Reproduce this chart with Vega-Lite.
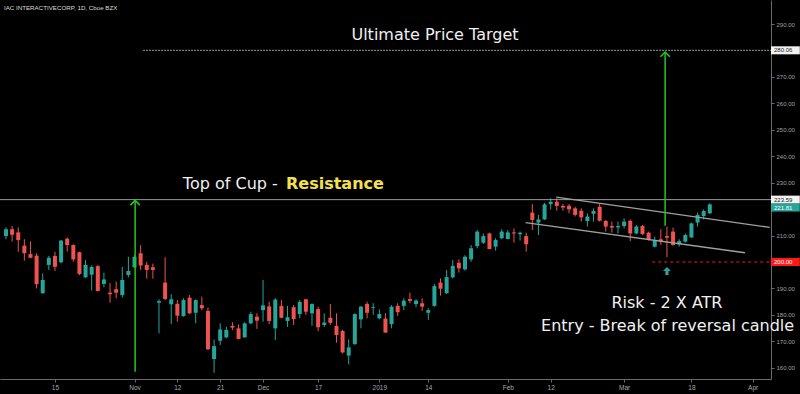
{
  "$schema": "https://vega.github.io/schema/vega-lite/v6.json",
  "width": 771,
  "height": 379,
  "autosize": {"type": "none"},
  "padding": {"left": 0, "top": 0, "right": 29, "bottom": 15},
  "background": "#000000",
  "config": {
    "view": {"stroke": null},
    "font": "DejaVu Sans",
    "axisY": {"tickCount": 15, "labelOverlap": false, "labelFlush": false, "grid": false, "title": null,
              "domainColor": "#6a6a6a", "tickColor": "#6a6a6a", "tickSize": 3,
              "labelColor": "#a0a0a0", "labelFontSize": 6, "labelPadding": 2, "labelFont": "Liberation Sans"},
    "axisX": {"labelOverlap": false, "labelFlush": false, "grid": false, "title": null,
              "domainColor": "#6a6a6a", "tickColor": "#6a6a6a", "tickSize": 3,
              "labelColor": "#a8a8a8", "labelFontSize": 6.5, "labelPadding": 2, "labelFont": "Liberation Sans"}
  },
  "datasets": {
    "candles": [
      {"i":0,"o":209.8,"h":213.1,"l":208.6,"c":212.4},
      {"i":1,"o":212.4,"h":213.6,"l":207.7,"c":210.3},
      {"i":2,"o":211.2,"h":213.1,"l":203.9,"c":208.3},
      {"i":3,"o":206.2,"h":208.6,"l":200.5,"c":203.3},
      {"i":4,"o":203.0,"h":207.8,"l":201.4,"c":201.6},
      {"i":5,"o":202.4,"h":203.3,"l":190.0,"c":191.6},
      {"i":6,"o":188.2,"h":195.7,"l":188.0,"c":193.2},
      {"i":7,"o":198.9,"h":202.3,"l":197.0,"c":201.6},
      {"i":8,"o":202.3,"h":203.9,"l":196.6,"c":198.2},
      {"i":9,"o":199.9,"h":208.3,"l":199.5,"c":208.1},
      {"i":10,"o":208.8,"h":209.3,"l":203.9,"c":206.4},
      {"i":11,"o":206.4,"h":206.7,"l":200.1,"c":201.0},
      {"i":12,"o":203.7,"h":203.9,"l":195.0,"c":195.5},
      {"i":13,"o":194.2,"h":200.8,"l":194.0,"c":198.9},
      {"i":14,"o":195.2,"h":198.7,"l":189.2,"c":198.1},
      {"i":15,"o":198.4,"h":198.9,"l":188.9,"c":189.0},
      {"i":16,"o":191.7,"h":196.0,"l":190.4,"c":193.4},
      {"i":17,"o":188.4,"h":192.0,"l":184.6,"c":187.8},
      {"i":18,"o":189.7,"h":192.6,"l":186.3,"c":188.4},
      {"i":19,"o":187.5,"h":198.2,"l":186.6,"c":193.2},
      {"i":20,"o":195.1,"h":202.0,"l":194.2,"c":196.6},
      {"i":21,"o":198.0,"h":202.6,"l":197.8,"c":202.0},
      {"i":22,"o":203.3,"h":206.4,"l":197.0,"c":198.7},
      {"i":23,"o":198.9,"h":200.1,"l":193.7,"c":197.0},
      {"i":24,"o":198.0,"h":199.4,"l":193.7,"c":197.0},
      {"i":25,"o":184.6,"h":185.9,"l":173.0,"c":185.2},
      {"i":26,"o":192.2,"h":201.8,"l":185.6,"c":186.0},
      {"i":27,"o":184.0,"h":187.8,"l":176.5,"c":185.9},
      {"i":28,"o":184.2,"h":185.6,"l":177.4,"c":179.7},
      {"i":29,"o":179.6,"h":186.3,"l":179.3,"c":185.6},
      {"i":30,"o":186.5,"h":187.5,"l":180.3,"c":180.6},
      {"i":31,"o":180.8,"h":185.9,"l":176.8,"c":185.6},
      {"i":32,"o":183.7,"h":186.9,"l":181.8,"c":182.5},
      {"i":33,"o":181.5,"h":182.8,"l":166.7,"c":167.0},
      {"i":34,"o":163.3,"h":170.7,"l":158.1,"c":168.2},
      {"i":35,"o":170.2,"h":176.8,"l":168.6,"c":174.5},
      {"i":36,"o":171.5,"h":175.5,"l":171.1,"c":174.3},
      {"i":37,"o":175.8,"h":177.2,"l":174.3,"c":175.2},
      {"i":38,"o":174.9,"h":176.4,"l":170.7,"c":170.9},
      {"i":39,"o":171.5,"h":177.2,"l":171.4,"c":176.8},
      {"i":40,"o":176.8,"h":181.2,"l":176.5,"c":180.3},
      {"i":41,"o":179.3,"h":180.6,"l":174.7,"c":177.8},
      {"i":42,"o":181.8,"h":193.2,"l":177.4,"c":183.6},
      {"i":43,"o":183.2,"h":185.0,"l":176.5,"c":177.7},
      {"i":44,"o":174.9,"h":186.3,"l":170.5,"c":185.8},
      {"i":45,"o":183.4,"h":185.6,"l":178.7,"c":178.9},
      {"i":46,"o":177.7,"h":183.4,"l":175.5,"c":179.1},
      {"i":47,"o":182.9,"h":183.7,"l":176.2,"c":178.4},
      {"i":48,"o":180.3,"h":185.6,"l":178.7,"c":184.9},
      {"i":49,"o":185.9,"h":186.0,"l":180.0,"c":181.2},
      {"i":50,"o":180.6,"h":184.4,"l":175.9,"c":184.1},
      {"i":51,"o":182.2,"h":183.1,"l":173.9,"c":175.3},
      {"i":52,"o":176.2,"h":180.6,"l":175.5,"c":177.1},
      {"i":53,"o":178.9,"h":184.1,"l":176.2,"c":177.0},
      {"i":54,"o":175.8,"h":180.6,"l":169.5,"c":172.4},
      {"i":55,"o":173.9,"h":174.3,"l":165.4,"c":165.8},
      {"i":56,"o":164.6,"h":170.7,"l":161.3,"c":167.7},
      {"i":57,"o":169.0,"h":180.6,"l":168.6,"c":180.3},
      {"i":58,"o":178.3,"h":183.4,"l":174.9,"c":183.1},
      {"i":59,"o":184.1,"h":185.0,"l":178.7,"c":180.8},
      {"i":60,"o":182.7,"h":184.4,"l":180.0,"c":183.0},
      {"i":61,"o":178.7,"h":182.1,"l":178.3,"c":180.3},
      {"i":62,"o":178.6,"h":180.6,"l":173.2,"c":173.3},
      {"i":63,"o":176.5,"h":183.7,"l":174.9,"c":183.1},
      {"i":64,"o":183.4,"h":184.4,"l":179.6,"c":181.0},
      {"i":65,"o":183.4,"h":186.3,"l":181.8,"c":185.4},
      {"i":66,"o":186.0,"h":188.4,"l":184.4,"c":185.3},
      {"i":67,"o":184.1,"h":185.9,"l":182.9,"c":185.4},
      {"i":68,"o":184.4,"h":186.3,"l":181.5,"c":183.1},
      {"i":69,"o":180.8,"h":182.5,"l":178.1,"c":181.8},
      {"i":70,"o":183.4,"h":191.7,"l":183.1,"c":190.9},
      {"i":71,"o":192.2,"h":193.8,"l":187.3,"c":189.9},
      {"i":72,"o":188.2,"h":197.0,"l":187.9,"c":194.3},
      {"i":73,"o":194.2,"h":200.8,"l":193.8,"c":198.5},
      {"i":74,"o":199.7,"h":201.0,"l":196.0,"c":197.6},
      {"i":75,"o":197.2,"h":202.6,"l":196.7,"c":202.0},
      {"i":76,"o":201.0,"h":206.4,"l":200.1,"c":205.2},
      {"i":77,"o":206.0,"h":212.1,"l":205.2,"c":211.5},
      {"i":78,"o":207.3,"h":210.8,"l":206.8,"c":209.8},
      {"i":79,"o":210.8,"h":211.1,"l":204.8,"c":204.9},
      {"i":80,"o":205.8,"h":209.0,"l":204.3,"c":208.3},
      {"i":81,"o":209.0,"h":212.4,"l":208.6,"c":211.5},
      {"i":82,"o":208.7,"h":212.1,"l":208.6,"c":211.2},
      {"i":83,"o":211.2,"h":212.7,"l":207.3,"c":210.8},
      {"i":84,"o":210.5,"h":211.5,"l":208.1,"c":211.1},
      {"i":85,"o":209.8,"h":211.1,"l":203.9,"c":206.7},
      {"i":86,"o":218.7,"h":221.9,"l":212.1,"c":215.9},
      {"i":87,"o":214.9,"h":217.8,"l":210.2,"c":216.1},
      {"i":88,"o":216.1,"h":222.4,"l":215.9,"c":221.8},
      {"i":89,"o":221.9,"h":224.1,"l":219.9,"c":222.8},
      {"i":90,"o":222.8,"h":224.1,"l":219.4,"c":221.2},
      {"i":91,"o":221.2,"h":221.9,"l":219.4,"c":220.6},
      {"i":92,"o":221.3,"h":221.9,"l":218.4,"c":219.9},
      {"i":93,"o":220.3,"h":220.9,"l":217.2,"c":217.8},
      {"i":94,"o":219.4,"h":220.3,"l":215.3,"c":216.9},
      {"i":95,"o":215.5,"h":218.4,"l":213.4,"c":217.2},
      {"i":96,"o":218.2,"h":220.3,"l":215.3,"c":219.3},
      {"i":97,"o":220.9,"h":221.9,"l":215.3,"c":215.6},
      {"i":98,"o":215.5,"h":215.9,"l":211.5,"c":213.4},
      {"i":99,"o":213.6,"h":215.3,"l":211.1,"c":213.0},
      {"i":100,"o":213.1,"h":215.3,"l":210.8,"c":213.6},
      {"i":101,"o":213.6,"h":216.5,"l":212.7,"c":215.3},
      {"i":102,"o":215.6,"h":216.1,"l":207.9,"c":210.8},
      {"i":103,"o":210.8,"h":214.0,"l":210.5,"c":213.4},
      {"i":104,"o":213.6,"h":214.0,"l":210.2,"c":210.6},
      {"i":105,"o":211.1,"h":211.5,"l":208.1,"c":208.6},
      {"i":106,"o":205.8,"h":209.6,"l":205.5,"c":208.3},
      {"i":107,"o":208.6,"h":212.4,"l":206.4,"c":207.8},
      {"i":108,"o":209.8,"h":213.4,"l":201.8,"c":209.2},
      {"i":109,"o":211.5,"h":213.0,"l":206.2,"c":206.4},
      {"i":110,"o":206.7,"h":208.6,"l":205.8,"c":207.9},
      {"i":111,"o":207.7,"h":210.8,"l":207.3,"c":210.2},
      {"i":112,"o":209.3,"h":214.9,"l":209.1,"c":214.6},
      {"i":113,"o":214.9,"h":218.7,"l":213.4,"c":217.8},
      {"i":114,"o":217.4,"h":219.9,"l":216.1,"c":219.3},
      {"i":115,"o":218.4,"h":222.2,"l":218.2,"c":221.8}
    ],
    "resistance": [{"x1": -0.98, "x2": 125, "y": 223.59}],
    "target": [{"x1": 22.4, "x2": 125, "y": 280.06}],
    "stop": [{"x1": 105.6, "x2": 125, "y": 200}],
    "channel": [
      {"x1": 89.9, "y1": 224.5, "x2": 124.8, "y2": 213.1},
      {"x1": 84.9, "y1": 214.9, "x2": 120.75, "y2": 203.5}
    ],
    "arrows": [
      {"x": 21.1, "y1": 158.5, "y2": 223.3},
      {"x": 107.7, "y1": 213.7, "y2": 279.4}
    ],
    "marker": [{"x": 108, "y": 196.6}],
    "tags": [
      {"y": 280.06, "label": "280.06", "kind": "target"},
      {"y": 223.59, "label": "223.59", "kind": "resistance"},
      {"y": 200.00, "label": "200.00", "kind": "stop"}
    ],
    "lastTag": [{"y": 221.81, "label": "221.81"}],
    "whiteNotes": [
      {"x": 70.1, "y": 286.0, "text": "Ultimate Price Target"},
      {"x": 108.0, "y": 184.5, "text": "Risk - 2 X ATR"},
      {"x": 108.1, "y": 175.8, "text": "Entry - Break of reversal candle"}
    ],
    "cupNote": [{"x": 28.9, "y": 229.5, "text": "Top of Cup - "}],
    "resNote": [{"x": 45.75, "y": 229.5, "text": "Resistance"}],
    "header": [{"x": -0.33, "y": 296.06, "text": "IAC INTERACTIVECORP, 1D, Cboe BZX"}]
  },
  "layer": [
    {
      "data": {"name": "candles"},
      "mark": {"type": "rule", "strokeWidth": 1},
      "encoding": {
        "x": {"field": "i", "type": "quantitative",
              "scale": {"domain": [-0.98, 125], "nice": false, "zero": false},
              "axis": {"orient": "bottom", "title": null,
                       "values": [8,21,28,35,42,51,61,69,82,89,101,112,122],
                       "labelExpr": "['15','Nov','12','21','Dec','17','2019','14','Feb','12','Mar','18','Apr'][indexof([8,21,28,35,42,51,61,69,82,89,101,112,122], datum.value)]"}},
        "y": {"field": "l", "type": "quantitative",
              "scale": {"domain": [155.75, 299.09], "nice": false, "zero": false},
              "axis": {"orient": "right", "title": null,
                       "values": [160,170,180,190,210,230,240,250,260,270,290],
                       "labelExpr": "indexof([200,220,280], datum.value) >= 0 ? '' : format(datum.value, '.2f')"}},
        "y2": {"field": "h"},
        "color": {"condition": {"test": "datum.c >= datum.o", "value": "#26a69a"}, "value": "#ef5350"}
      }
    },
    {
      "data": {"name": "candles"},
      "mark": {"type": "rule", "strokeWidth": 4, "strokeCap": "butt"},
      "encoding": {
        "x": {"field": "i", "type": "quantitative", "scale": {"domain": [-0.98, 125], "nice": false, "zero": false}},
        "y": {"field": "o", "type": "quantitative", "scale": {"domain": [155.75, 299.09], "nice": false, "zero": false}},
        "y2": {"field": "c"},
        "color": {"condition": {"test": "datum.c >= datum.o", "value": "#26a69a"}, "value": "#ef5350"}
      }
    },
    {
      "data": {"name": "resistance"},
      "mark": {"type": "rule", "color": "#9a9a9a", "strokeWidth": 1},
      "encoding": {
        "x": {"field": "x1", "type": "quantitative", "scale": {"domain": [-0.98, 125], "nice": false, "zero": false}},
        "x2": {"field": "x2"},
        "y": {"field": "y", "type": "quantitative", "scale": {"domain": [155.75, 299.09], "nice": false, "zero": false}}
      }
    },
    {
      "data": {"name": "target"},
      "mark": {"type": "rule", "color": "#9a9a9a", "strokeWidth": 1, "strokeDash": [2, 1]},
      "encoding": {
        "x": {"field": "x1", "type": "quantitative", "scale": {"domain": [-0.98, 125], "nice": false, "zero": false}},
        "x2": {"field": "x2"},
        "y": {"field": "y", "type": "quantitative", "scale": {"domain": [155.75, 299.09], "nice": false, "zero": false}}
      }
    },
    {
      "data": {"name": "stop"},
      "mark": {"type": "rule", "color": "#ff1a1a", "strokeWidth": 1.2, "strokeDash": [3, 3]},
      "encoding": {
        "x": {"field": "x1", "type": "quantitative", "scale": {"domain": [-0.98, 125], "nice": false, "zero": false}},
        "x2": {"field": "x2"},
        "y": {"field": "y", "type": "quantitative", "scale": {"domain": [155.75, 299.09], "nice": false, "zero": false}}
      }
    },
    {
      "data": {"name": "channel"},
      "mark": {"type": "rule", "color": "#a0a0a0", "strokeWidth": 1.3},
      "encoding": {
        "x": {"field": "x1", "type": "quantitative", "scale": {"domain": [-0.98, 125], "nice": false, "zero": false}},
        "x2": {"field": "x2"},
        "y": {"field": "y1", "type": "quantitative", "scale": {"domain": [155.75, 299.09], "nice": false, "zero": false}},
        "y2": {"field": "y2"}
      }
    },
    {
      "data": {"name": "arrows"},
      "mark": {"type": "rule", "color": "#22c822", "strokeWidth": 1.5},
      "encoding": {
        "x": {"field": "x", "type": "quantitative", "scale": {"domain": [-0.98, 125], "nice": false, "zero": false}},
        "y": {"field": "y1", "type": "quantitative", "scale": {"domain": [155.75, 299.09], "nice": false, "zero": false}},
        "y2": {"field": "y2"}
      }
    },
    {
      "data": {"name": "arrows"},
      "mark": {"type": "point", "shape": "M-1,1L0,0L1,1", "filled": false, "stroke": "#22c822", "strokeWidth": 1.5, "size": 90, "opacity": 1},
      "encoding": {
        "x": {"field": "x", "type": "quantitative", "scale": {"domain": [-0.98, 125], "nice": false, "zero": false}},
        "y": {"field": "y2", "type": "quantitative", "scale": {"domain": [155.75, 299.09], "nice": false, "zero": false}}
      }
    },
    {
      "data": {"name": "marker"},
      "mark": {"type": "point", "shape": "M0,-1L1,0L0.4,0L0.4,1L-0.4,1L-0.4,0L-1,0Z", "filled": true, "color": "#26a69a", "size": 64, "opacity": 1},
      "encoding": {
        "x": {"field": "x", "type": "quantitative", "scale": {"domain": [-0.98, 125], "nice": false, "zero": false}},
        "y": {"field": "y", "type": "quantitative", "scale": {"domain": [155.75, 299.09], "nice": false, "zero": false}}
      }
    },
    {
      "data": {"name": "tags"},
      "mark": {"type": "point", "shape": "M0,-0.5L3.6,-0.5L3.6,0.5L0,0.5Z", "filled": true, "size": 256, "opacity": 1, "strokeWidth": 0},
      "encoding": {
        "x": {"datum": 125, "type": "quantitative", "scale": {"domain": [-0.98, 125], "nice": false, "zero": false}},
        "y": {"field": "y", "type": "quantitative", "scale": {"domain": [155.75, 299.09], "nice": false, "zero": false}},
        "color": {"field": "kind", "type": "nominal", "legend": null,
                  "scale": {"domain": ["target", "resistance", "stop"], "range": ["#f2f2f2", "#f2f2f2", "#ff1a1a"]}}
      }
    },
    {
      "data": {"name": "tags"},
      "mark": {"type": "text", "align": "left", "baseline": "middle", "dx": 3, "fontSize": 6, "font": "Liberation Sans"},
      "encoding": {
        "x": {"datum": 125, "type": "quantitative", "scale": {"domain": [-0.98, 125], "nice": false, "zero": false}},
        "y": {"field": "y", "type": "quantitative", "scale": {"domain": [155.75, 299.09], "nice": false, "zero": false}},
        "text": {"field": "label"},
        "color": {"condition": {"test": "datum.kind !== 'stop'", "value": "#222222"}, "value": "#ffffff"}
      }
    },
    {
      "data": {"name": "lastTag"},
      "mark": {"type": "point", "shape": "M0,-0.1L3.6,-0.1L3.6,0.9L0,0.9Z", "filled": true, "size": 256, "opacity": 1, "strokeWidth": 0, "color": "#26a69a"},
      "encoding": {
        "x": {"datum": 125, "type": "quantitative", "scale": {"domain": [-0.98, 125], "nice": false, "zero": false}},
        "y": {"field": "y", "type": "quantitative", "scale": {"domain": [155.75, 299.09], "nice": false, "zero": false}}
      }
    },
    {
      "data": {"name": "lastTag"},
      "mark": {"type": "text", "align": "left", "baseline": "middle", "dx": 3, "dy": 3.2, "fontSize": 6, "font": "Liberation Sans", "color": "#ffffff"},
      "encoding": {
        "x": {"datum": 125, "type": "quantitative", "scale": {"domain": [-0.98, 125], "nice": false, "zero": false}},
        "y": {"field": "y", "type": "quantitative", "scale": {"domain": [155.75, 299.09], "nice": false, "zero": false}},
        "text": {"field": "label"}
      }
    },
    {
      "data": {"name": "whiteNotes"},
      "mark": {"type": "text", "align": "center", "baseline": "middle", "fontSize": 16, "color": "#f0f0f0"},
      "encoding": {
        "x": {"field": "x", "type": "quantitative", "scale": {"domain": [-0.98, 125], "nice": false, "zero": false}},
        "y": {"field": "y", "type": "quantitative", "scale": {"domain": [155.75, 299.09], "nice": false, "zero": false}},
        "text": {"field": "text"}
      }
    },
    {
      "data": {"name": "cupNote"},
      "mark": {"type": "text", "align": "left", "baseline": "middle", "fontSize": 16, "color": "#f0f0f0"},
      "encoding": {
        "x": {"field": "x", "type": "quantitative", "scale": {"domain": [-0.98, 125], "nice": false, "zero": false}},
        "y": {"field": "y", "type": "quantitative", "scale": {"domain": [155.75, 299.09], "nice": false, "zero": false}},
        "text": {"field": "text"}
      }
    },
    {
      "data": {"name": "resNote"},
      "mark": {"type": "text", "align": "left", "baseline": "middle", "fontSize": 16, "fontWeight": "bold", "color": "#f5e050"},
      "encoding": {
        "x": {"field": "x", "type": "quantitative", "scale": {"domain": [-0.98, 125], "nice": false, "zero": false}},
        "y": {"field": "y", "type": "quantitative", "scale": {"domain": [155.75, 299.09], "nice": false, "zero": false}},
        "text": {"field": "text"}
      }
    },
    {
      "data": {"name": "header"},
      "mark": {"type": "text", "align": "left", "baseline": "middle", "fontSize": 6.2, "font": "Liberation Sans", "color": "#dcdcdc"},
      "encoding": {
        "x": {"field": "x", "type": "quantitative", "scale": {"domain": [-0.98, 125], "nice": false, "zero": false}},
        "y": {"field": "y", "type": "quantitative", "scale": {"domain": [155.75, 299.09], "nice": false, "zero": false}},
        "text": {"field": "text"}
      }
    }
  ]
}
